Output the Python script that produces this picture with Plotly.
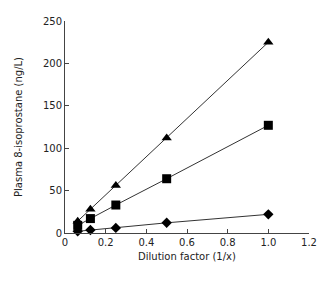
import plotly.graph_objects as go

dilution = [0.0625, 0.125, 0.25, 0.5, 1.0]
triangle_vals = [14, 28, 56, 112, 225]
square_vals = [9, 17, 33, 64, 127]
diamond_vals = [2, 3.5, 6, 12, 22]

x_ticks = [0, 0.2, 0.4, 0.6, 0.8, 1.0, 1.2]
x_tick_text = ["0", "0.2", "0.4", "0.6", "0.8", "1.0", "1.2"]
y_ticks = [0, 50, 100, 150, 200, 250]

fig = go.Figure()
for vals, sym, size in [(triangle_vals, "triangle-up", 9),
                        (square_vals, "square", 9),
                        (diamond_vals, "diamond", 8)]:
    fig.add_trace(go.Scatter(
        x=dilution, y=vals, mode="lines+markers",
        line=dict(color="#333333", width=1),
        marker=dict(symbol=sym, size=size, color="black"),
        showlegend=False, cliponaxis=False))

font = dict(family="DejaVu Sans", size=10, color="#222222")
fig.update_layout(
    width=321, height=273,
    margin=dict(l=57, r=20, t=7, b=48),
    paper_bgcolor="white", plot_bgcolor="white",
    font=font,
    xaxis=dict(range=[0, 1.2], tickvals=x_ticks, ticktext=x_tick_text,
               showgrid=False, zeroline=False, showline=True,
               linecolor="#444444", linewidth=1,
               ticks="inside", ticklen=4, tickcolor="#444444",
               title=dict(text="Dilution factor (1/x)", standoff=5, font=font)),
    yaxis=dict(range=[0, 250], tickvals=y_ticks,
               showgrid=False, zeroline=False, showline=True,
               linecolor="#444444", linewidth=1,
               ticks="inside", ticklen=4, tickcolor="#444444",
               title=dict(text="Plasma 8-isoprostane (ng/L)", standoff=18, font=font)),
)
fig.write_html("out.html")
